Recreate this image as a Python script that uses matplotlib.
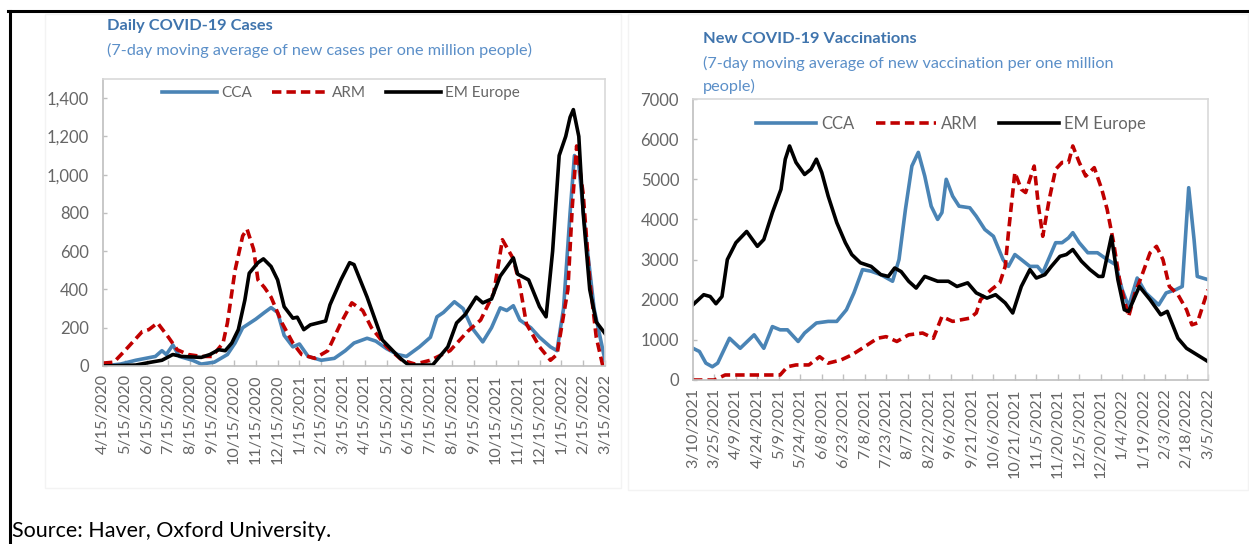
import matplotlib
matplotlib.use("Agg")
from matplotlib import pyplot as plt
from matplotlib.lines import Line2D
from matplotlib.patches import Rectangle

plt.rcParams['font.family'] = ['Lato', 'DejaVu Sans']

# ---- left chart: daily cases (x = months after 4/15/2020) ----
cases_ticks = ['4/15/2020', '5/15/2020', '6/15/2020', '7/15/2020', '8/15/2020', '9/15/2020',
               '10/15/2020', '11/15/2020', '12/15/2020', '1/15/2021', '2/15/2021', '3/15/2021',
               '4/15/2021', '5/15/2021', '6/15/2021', '7/15/2021', '8/15/2021', '9/15/2021',
               '10/15/2021', '11/15/2021', '12/15/2021', '1/15/2022', '2/15/2022', '3/15/2022']

cca_m = [0, 0.8, 1.5, 2.4, 2.7, 2.9, 3.2, 3.5, 4.1, 4.5, 5.1, 5.7, 6.05, 6.4, 7.0, 7.4, 7.7, 8.0,
         8.3, 8.7, 9.0, 9.4, 10.0, 10.6, 11.1, 11.5, 12.1, 12.5, 13.0, 13.5, 13.9, 14.5, 15.0,
         15.3, 15.6, 16.1, 16.5, 16.9, 17.4, 17.8, 18.2, 18.5, 18.8, 19.1, 19.6, 20.0, 20.5,
         20.8, 21.1, 21.4, 21.6, 21.8, 22.1, 22.5, 23.0]
cca_cases = [0, 10, 30, 50, 80, 60, 110, 50, 30, 10, 20, 60, 120, 200, 245, 280, 305, 280,
             160, 100, 115, 50, 30, 40, 80, 120, 145, 130, 90, 60, 50, 100, 150,
             257, 280, 336, 300, 200, 126, 200, 304, 290, 315, 240, 200, 150, 100,
             80, 300, 800, 1100, 1050, 700, 300, 30]

arm_m = [0, 0.5, 1.0, 1.8, 2.1, 2.5, 3.0, 3.4, 3.9, 4.5, 5.0, 5.5, 5.7, 6.05, 6.4, 6.6, 6.9,
         7.1, 7.4, 7.7, 8.2, 8.7, 9.1, 9.7, 10.3, 10.9, 11.4, 11.9, 12.3, 13.0, 13.7, 14.3,
         15.0, 15.9, 16.7, 17.3, 17.9, 18.3, 18.6, 18.8, 19.1, 19.4, 20.0, 20.5, 20.8, 21.3,
         21.5, 21.7, 22.0, 22.3, 22.6, 22.9]
arm_cases = [15, 20, 80, 180, 190, 225, 150, 85, 60, 50, 50, 120, 225, 500, 680, 715, 610,
             450, 410, 360, 225, 120, 60, 40, 80, 225, 330, 290, 200, 100, 30, 10,
             30, 80, 180, 240, 380, 660, 600, 560, 420, 220, 100, 30, 60, 400,
             830, 1150, 900, 450, 150, 0]

eme_m = [0, 1.5, 2.2, 2.7, 3.2, 3.6, 4.5, 4.9, 5.3, 5.6, 5.9, 6.2, 6.5, 6.7, 7.1, 7.35, 7.7,
         8.0, 8.3, 8.7, 8.9, 9.2, 9.5, 9.85, 10.2, 10.4, 10.9, 11.3, 11.5, 12.1, 12.8, 13.6,
         14.0, 15.1, 15.8, 16.2, 16.6, 17.1, 17.4, 17.8, 18.2, 18.8, 19.0, 19.5, 20.0, 20.3,
         20.6, 20.9, 21.2, 21.4, 21.55, 21.8, 22.0, 22.3, 22.6, 23.0]
eme_cases = [0, 5, 20, 30, 60, 50, 45, 60, 85, 80, 120, 190, 345, 485, 540, 560, 520,
             450, 310, 250, 255, 190, 215, 225, 235, 320, 450, 540, 530, 360, 136, 42,
             5, 5, 100, 225, 270, 360, 330, 350, 470, 565, 480, 450, 310, 257,
             600, 1100, 1200, 1300, 1340, 1200, 800, 400, 230, 170]

# ---- right chart: vaccinations (x = 15-day steps after 3/10/2021) ----
vacc_ticks = ['3/10/2021', '3/25/2021', '4/9/2021', '4/24/2021', '5/9/2021', '5/24/2021',
              '6/8/2021', '6/23/2021', '7/8/2021', '7/23/2021', '8/7/2021', '8/22/2021',
              '9/6/2021', '9/21/2021', '10/6/2021', '10/21/2021', '11/5/2021', '11/20/2021',
              '12/5/2021', '12/20/2021', '1/4/2022', '1/19/2022', '2/3/2022', '2/18/2022',
              '3/5/2022']

cca_t = [0, 0.3, 0.6, 0.9, 1.15, 1.7, 2.2, 2.85, 3.3, 3.7, 4.06, 4.4, 4.9, 5.2, 5.75, 6.3, 6.7,
         7.15, 7.5, 7.9, 8.3, 8.75, 9.3, 9.6, 9.9, 10.2, 10.5, 10.8, 11.1, 11.4, 11.6, 11.8,
         12.1, 12.4, 12.9, 13.2, 13.6, 14.0, 14.45, 14.7, 15.0, 15.3, 15.7, 16.05, 16.3, 16.7,
         16.9, 17.2, 17.5, 17.7, 18.0, 18.4, 18.85, 19.3, 19.7, 20.0, 20.3, 20.7, 21.1, 21.7,
         22.05, 22.5, 22.8, 23.1, 23.35, 23.5, 24.0]
cca_vacc = [790, 710, 420, 330, 420, 1040, 790, 1125, 790, 1330, 1250, 1250, 960, 1170, 1420,
            1460, 1460, 1750, 2170, 2750, 2710, 2625, 2460, 3000, 4250, 5330, 5670, 5080, 4330,
            4000, 4170, 5000, 4580, 4330, 4290, 4080, 3750, 3580, 3000, 2830, 3125, 3000, 2830,
            2830, 2670, 3170, 3420, 3420, 3540, 3670, 3420, 3170, 3170, 3000, 2870, 2250, 1830,
            2540, 2170, 1870, 2170, 2250, 2330, 4790, 3500, 2580, 2500]

arm_t = [0, 1.0, 1.5, 4.06, 4.4, 4.8, 5.4, 5.9, 6.3, 6.9, 7.4, 8.0, 8.6, 9.0, 9.5, 10.05, 10.7,
         11.2, 11.6, 12.1, 12.9, 13.2, 13.4, 13.9, 14.3, 14.55, 14.7, 15.0, 15.3, 15.5, 15.9,
         16.1, 16.3, 16.6, 16.9, 17.2, 17.5, 17.7, 18.0, 18.3, 18.7, 19.05, 19.3, 19.6, 19.9,
         20.3, 20.6, 20.9, 21.3, 21.6, 21.9, 22.2, 22.6, 23.0, 23.25, 23.5, 24.0]
arm_vacc = [0, 0, 125, 125, 330, 375, 375, 580, 420, 500, 625, 830, 1040, 1080, 960, 1125, 1170,
            1040, 1580, 1460, 1540, 1670, 2000, 2250, 2420, 2830, 3670, 5170, 4750, 4670, 5330,
            4330, 3580, 4500, 5250, 5420, 5420, 5830, 5420, 5080, 5290, 4750, 4250, 3420, 2420,
            1580, 2170, 2580, 3170, 3330, 3000, 2330, 2125, 1750, 1375, 1420, 2250]

eme_t = [0, 0.5, 0.8, 1.07, 1.35, 1.6, 2.0, 2.5, 3.0, 3.3, 3.7, 4.1, 4.3, 4.5, 4.8, 5.2, 5.5,
         5.75, 6.0, 6.3, 6.7, 7.1, 7.4, 7.8, 8.3, 8.75, 9.1, 9.4, 9.7, 10.05, 10.4, 10.8, 11.4,
         11.9, 12.3, 12.8, 13.2, 13.7, 14.1, 14.55, 14.9, 15.3, 15.7, 16.0, 16.4, 16.7, 17.1,
         17.4, 17.7, 18.1, 18.5, 18.9, 19.1, 19.5, 19.8, 20.1, 20.3, 20.8, 21.3, 21.8, 22.1,
         22.6, 23.0, 23.5, 24.0]
eme_vacc = [1875, 2125, 2080, 1900, 2080, 3000, 3420, 3700, 3330, 3500, 4170, 4750, 5500, 5830,
            5420, 5120, 5250, 5500, 5170, 4580, 3920, 3420, 3125, 2920, 2830, 2625, 2580, 2790,
            2700, 2460, 2290, 2580, 2460, 2460, 2330, 2420, 2170, 2040, 2125, 1920, 1670, 2330,
            2750, 2540, 2625, 2830, 3080, 3125, 3250, 2960, 2750, 2580, 2580, 3580, 2500, 1750,
            1710, 2330, 2000, 1625, 1710, 1040, 790, 625, 460]

BLUE = '#4a84b5'
RED = '#c00000'
TXT = '#666666'
TITLE = '#3f74ad'
SUB = '#5b8fc8'
W, H = 1249, 544

fig = plt.figure(figsize=(12.49, 5.44), dpi=100)

# faint chart-area boxes and page border
fig.add_artist(Rectangle((45 / W, 1 - 488 / H), 576 / W, 474 / H, transform=fig.transFigure,
                         fill=False, edgecolor='#f3f3f3', lw=1))
fig.add_artist(Rectangle((628 / W, 1 - 490 / H), 620 / W, 476 / H, transform=fig.transFigure,
                         fill=False, edgecolor='#f3f3f3', lw=1))
fig.add_artist(Line2D([8 / W, 1], [1 - 11 / H, 1 - 11 / H], color='black', lw=2.2))
fig.add_artist(Line2D([9.5 / W, 9.5 / W], [0, 1 - 11 / H], color='black', lw=2.2))


def style_axes(ax):
    for side in ['top', 'right']:
        ax.spines[side].set_color('#d9d9d9')
    for side in ['left', 'bottom']:
        ax.spines[side].set_color('#bfbfbf')
    for side in ax.spines:
        ax.spines[side].set_linewidth(1.2)
    ax.tick_params(axis='both', direction='in', color='#bfbfbf', length=4, width=1,
                   labelcolor=TXT)
    ax.tick_params(axis='y', labelsize=12, pad=10, length=3)
    ax.tick_params(axis='x', labelsize=11.6, rotation=90, pad=6)


def draw(ax, xs, ys, labels):
    ax.plot(xs[0], ys[0], color=BLUE, lw=2.6, label=labels[0])
    ax.plot(xs[1], ys[1], color=RED, lw=2.6, linestyle=(0, (2.6, 1.4)), label=labels[1])
    ax.plot(xs[2], ys[2], color='black', lw=2.6, label=labels[2])


names = ['CCA', 'ARM', 'EM Europe']

ax1 = fig.add_axes([103 / W, 1 - 366 / H, 502 / W, 287 / H])
draw(ax1, [cca_m, arm_m, eme_m], [cca_cases, arm_cases, eme_cases], names)
ax1.set_xlim(0, len(cases_ticks) - 1)
ax1.set_ylim(0, 1500)
ax1.set_yticks(range(0, 1401, 200))
ax1.set_yticklabels(['{:,}'.format(v) for v in range(0, 1401, 200)])
ax1.set_xticks(range(len(cases_ticks)))
ax1.set_xticklabels(cases_ticks)
style_axes(ax1)
ax1.legend(loc='center', bbox_to_anchor=(0.474, 0.951), ncol=3, frameon=False,
           handlelength=3.6, handletextpad=0.3, columnspacing=1.3, fontsize=11,
           labelcolor=TXT)

ax2 = fig.add_axes([693 / W, 1 - 380 / H, 515 / W, 281 / H])
draw(ax2, [cca_t, arm_t, eme_t], [cca_vacc, arm_vacc, eme_vacc], names)
ax2.set_xlim(0, len(vacc_ticks) - 1)
ax2.set_ylim(0, 7000)
ax2.set_yticks(range(0, 7001, 1000))
ax2.set_xticks(range(len(vacc_ticks)))
ax2.set_xticklabels(vacc_ticks)
style_axes(ax2)
ax2.legend(loc='center', bbox_to_anchor=(0.501, 0.911), ncol=3, frameon=False,
           handlelength=3.6, handletextpad=0.3, columnspacing=1.3, fontsize=12,
           labelcolor=TXT)

# titles
fig.text(107 / W, 1 - 26 / H, 'Daily COVID-19 Cases', fontsize=11.8, fontweight='bold',
         color=TITLE, va='center')
fig.text(107 / W, 1 - 50 / H, '(7-day moving average of new cases per one million people)',
         fontsize=11.7, color=SUB, va='center')
fig.text(703 / W, 1 - 39 / H, 'New COVID-19 Vaccinations', fontsize=11.8, fontweight='bold',
         color=TITLE, va='center')
fig.text(703 / W, 1 - 63 / H, '(7-day moving average of new vaccination per one million',
         fontsize=11.7, color=SUB, va='center')
fig.text(703 / W, 1 - 86 / H, 'people)', fontsize=11.7, color=SUB, va='center')

fig.text(12 / W, 1 - 531 / H, 'Source: Haver, Oxford University.', fontsize=15.5,
         color='black', va='center')

fig.savefig('out.png', dpi=100)
